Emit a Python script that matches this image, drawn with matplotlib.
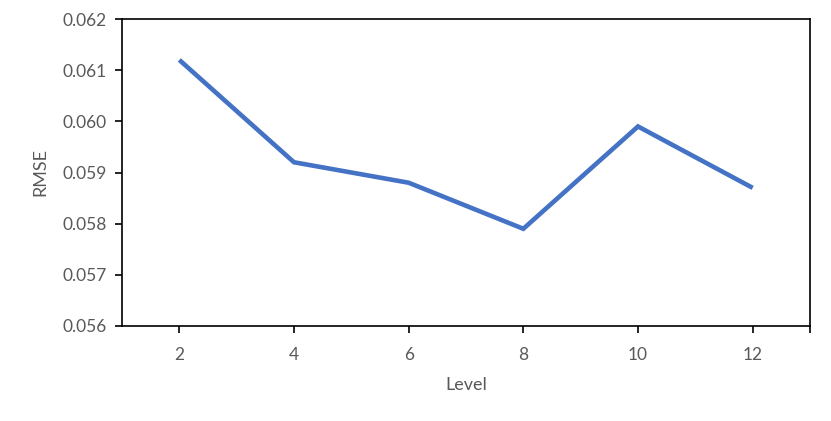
import matplotlib.pyplot as plt

levels = [2, 4, 6, 8, 10, 12]
rmse = [0.0612, 0.0592, 0.0588, 0.0579, 0.0599, 0.0587]
y_ticks = [0.056, 0.057, 0.058, 0.059, 0.060, 0.061, 0.062]

plt.rcParams['font.family'] = ['Lato', 'DejaVu Sans']
grey = '#595959'

fig = plt.figure(figsize=(8.31, 4.21), dpi=100)
ax = fig.add_axes([122 / 831, 1 - 326 / 421, 688 / 831, 307 / 421])

ax.plot(levels, rmse, color='#4472C4', linewidth=3.3, solid_capstyle='butt', solid_joinstyle='miter')

ax.set_xlim(1, 13)
ax.set_ylim(0.056, 0.062)
ax.set_xticks([2, 4, 6, 8, 10, 12, 13])
ax.set_xticklabels(['2', '4', '6', '8', '10', '12', ''])
ax.set_yticks(y_ticks)
ax.set_yticklabels([f'{v:.3f}' for v in y_ticks])

for s in ax.spines.values():
    s.set_color('black')
    s.set_linewidth(1.2)
ax.tick_params(axis='both', colors='black', labelcolor=grey, labelsize=12.5,
               length=5, width=1.2, direction='out')
ax.tick_params(axis='x', pad=10)
ax.tick_params(axis='y', pad=6)

ax.set_xlabel('Level', fontsize=13, color=grey, labelpad=10)
ax.set_ylabel('RMSE', fontsize=13, color=grey, labelpad=10)

fig.savefig('out.png', dpi=100)
